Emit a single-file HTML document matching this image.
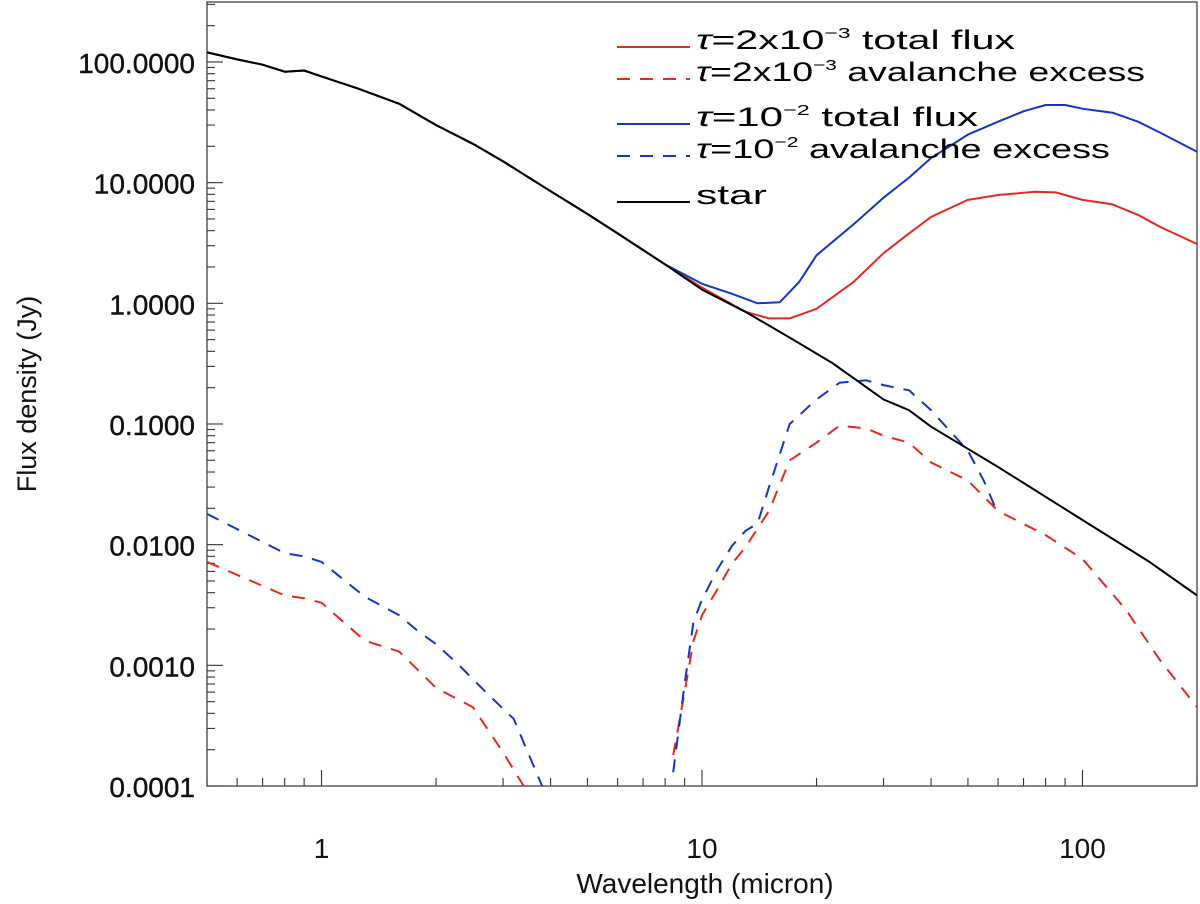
<!DOCTYPE html>
<html><head><meta charset="utf-8"><style>
html,body{margin:0;padding:0;background:#fff;}
svg{display:block;font-family:"Liberation Sans",sans-serif;}
</style></head><body>
<svg id="chart" width="1200" height="904" viewBox="0 0 1200 904" xmlns="http://www.w3.org/2000/svg">
<g id="plot"></g>
<text x="705" y="893" font-size="28" text-anchor="middle" fill="#111">Wavelength (micron)</text>
<text transform="translate(36,394) rotate(-90)" font-size="27" text-anchor="middle" fill="#111">Flux density (Jy)</text>
<g font-size="27" fill="#000">
 <line x1="617" y1="47" x2="690" y2="47" stroke="#e8281e" stroke-width="2"/>
 <text x="696" y="49" textLength="319" lengthAdjust="spacingAndGlyphs"><tspan font-style="italic">τ</tspan>=2x10<tspan font-size="15" dy="-11">−3</tspan><tspan dy="11">  total flux</tspan></text>
 <line x1="617" y1="79" x2="690" y2="79" stroke="#e8281e" stroke-width="2" stroke-dasharray="13,10"/>
 <text x="696" y="81" textLength="449" lengthAdjust="spacingAndGlyphs"><tspan font-style="italic">τ</tspan>=2x10<tspan font-size="15" dy="-11">−3</tspan><tspan dy="11">  avalanche excess</tspan></text>
 <line x1="617" y1="124" x2="690" y2="124" stroke="#1436c8" stroke-width="2"/>
 <text x="696" y="126" textLength="282" lengthAdjust="spacingAndGlyphs"><tspan font-style="italic">τ</tspan>=10<tspan font-size="15" dy="-11">−2</tspan><tspan dy="11">  total flux</tspan></text>
 <line x1="617" y1="156" x2="690" y2="156" stroke="#1436c8" stroke-width="2" stroke-dasharray="13,10"/>
 <text x="696" y="158" textLength="414" lengthAdjust="spacingAndGlyphs"><tspan font-style="italic">τ</tspan>=10<tspan font-size="15" dy="-11">−2</tspan><tspan dy="11">  avalanche excess</tspan></text>
 <line x1="617" y1="202" x2="690" y2="202" stroke="#000" stroke-width="2"/>
 <text x="696" y="204" textLength="71" lengthAdjust="spacingAndGlyphs">star</text>
</g>
</svg>
<script>
const starX=[0.5,0.6,0.7,0.8,0.9,1,1.25,1.6,2,2.5,3,4,5,6,8,10,13,17,22,30,35,40,60,100,150,200];
const starY=[120,105,95,83,85,76,60,45,30,21,15,8.5,5.5,3.8,2.1,1.3,0.85,0.52,0.32,0.16,0.13,0.095,0.044,0.016,0.0072,0.0038];
const redTotX=[0.5,0.6,0.7,0.8,0.9,1,1.25,1.6,2,2.5,3,4,5,6,8,10,13,15,17,20,25,30,35,40,50,60,75,85,100,120,140,160,200];
const redTotY=[120,105,95,83,85,76,60,45,30,21,15,8.5,5.5,3.8,2.1,1.35,0.85,0.75,0.75,0.9,1.5,2.6,3.8,5.2,7.2,7.9,8.4,8.3,7.2,6.6,5.4,4.3,3.1];
const blueTotX=[0.5,0.6,0.7,0.8,0.9,1,1.25,1.6,2,2.5,3,4,5,6,8,10,12,14,16,18,20,25,30,35,40,50,60,70,80,90,100,120,140,160,200];
const blueTotY=[120,105,95,83,85,76,60,45,30,21,15,8.5,5.5,3.8,2.1,1.45,1.2,1.0,1.02,1.5,2.5,4.5,7.5,11,16,25,32,39,44,44,41,38,32,26,18];
const redExLX=[0.5,0.8,0.9,1.0,1.3,1.6,2,2.5,3,3.4];
const redExLY=[0.0072,0.0038,0.0036,0.0033,0.0016,0.0013,0.00065,0.00045,0.00019,0.0001];
const blueExLX=[0.5,0.8,0.9,1.0,1.3,1.6,1.8,2,2.3,2.7,3.2,3.8];
const blueExLY=[0.018,0.0085,0.008,0.0072,0.0037,0.0026,0.0019,0.0015,0.001,0.0006,0.00036,0.0001];
const redExRX=[8.4,9,9.5,10,11,12,13,15,17,20,23,27,30,35,40,50,60,80,100,130,160,200];
const redExRY=[0.00018,0.0006,0.0016,0.0026,0.0043,0.007,0.0095,0.019,0.05,0.07,0.097,0.092,0.08,0.07,0.048,0.034,0.019,0.012,0.0076,0.0029,0.0011,0.00045];
const blueExRX=[8.4,9,9.5,10,11,12,13,14,15,17,20,23,27,30,35,40,50,55,60];
const blueExRY=[0.00013,0.0007,0.0023,0.0035,0.0063,0.0098,0.013,0.015,0.03,0.1,0.16,0.22,0.23,0.21,0.19,0.13,0.06,0.034,0.018];
const yTicks=[100,10,1,0.1,0.01,0.001,0.0001];
const yTickLabels=["100.0000","10.0000","1.0000","0.1000","0.0100","0.0010","0.0001"];
const xMajor=[1,10,100];
const xMajorLabels=["1","10","100"];

const L=207,R=1197,T=2,B=786;
const xmin=Math.log10(0.5),xmax=Math.log10(200);
const ymin=-4,ymax=2.497;
const sx=v=>L+(Math.log10(v)-xmin)/(xmax-xmin)*(R-L);
const sy=v=>B-(Math.log10(v)-ymin)/(ymax-ymin)*(B-T);
const NS="http://www.w3.org/2000/svg";
const g=document.getElementById('plot');
function mk(t,a){const e=document.createElementNS(NS,t);for(const k in a)e.setAttribute(k,a[k]);g.appendChild(e);return e;}

const defs=mk('clipPath',{id:'clip'});
const cr=document.createElementNS(NS,'rect');
cr.setAttribute('x',L);cr.setAttribute('y',T);cr.setAttribute('width',R-L);cr.setAttribute('height',B-T);
defs.appendChild(cr);

const frame=mk('rect',{x:L,y:T,width:R-L,height:B-T,fill:'none',stroke:'#333','stroke-width':1.2});



for(let d=-1;d<=2;d++){for(let m=1;m<10;m++){const v=m*Math.pow(10,d);if(v<0.5||v>200)continue;
 const x=sx(v);const len=m===1?16:8;
 const t1=mk('line',{x1:x,y1:B,x2:x,y2:B-len,stroke:'#333','stroke-width':1.1});
 
 
}}
xMajor.forEach((v,i)=>{const t=mk('text',{x:sx(v),y:858,'font-size':28,'text-anchor':'middle',fill:'#111'});t.textContent=xMajorLabels[i];
 
 });
for(let d=-4;d<=2;d++){for(let m=1;m<10;m++){const v=m*Math.pow(10,d);if(Math.log10(v)>ymax)continue;
 const y=sy(v);const len=m===1?16:8;
 const t1=mk('line',{x1:L,y1:y,x2:L+len,y2:y,stroke:'#333','stroke-width':1.1});
 
 
}}
yTicks.forEach((v,i)=>{const t=mk('text',{x:195,y:sy(v)+11,'font-size':28,'text-anchor':'end',fill:'#111',stroke:'#111','stroke-width':0.4});t.textContent=yTickLabels[i];
 
 });

function series(xs,ys,color,dash,name){
 const d=xs.map((v,i)=>(i?'L':'M')+sx(v).toFixed(1)+','+sy(ys[i]).toFixed(1)).join(' ');
 const p=mk('path',{d:d,fill:'none',stroke:color,'stroke-width':2,'clip-path':'url(#clip)','stroke-linejoin':'round'});
 if(dash)p.setAttribute('stroke-dasharray','13,10');
 
 
}
series(redExLX,redExLY,'#e8281e',true,'red-excess-left');
series(blueExLX,blueExLY,'#1436c8',true,'blue-excess-left');
series(redExRX,redExRY,'#e8281e',true,'red-excess-right');
series(blueExRX,blueExRY,'#1436c8',true,'blue-excess-right');
series(redTotX,redTotY,'#e8281e',false,'red-total-flux');
series(blueTotX,blueTotY,'#1436c8',false,'blue-total-flux');
series(starX,starY,'#000',false,'star-flux');
</script>
</body></html>
